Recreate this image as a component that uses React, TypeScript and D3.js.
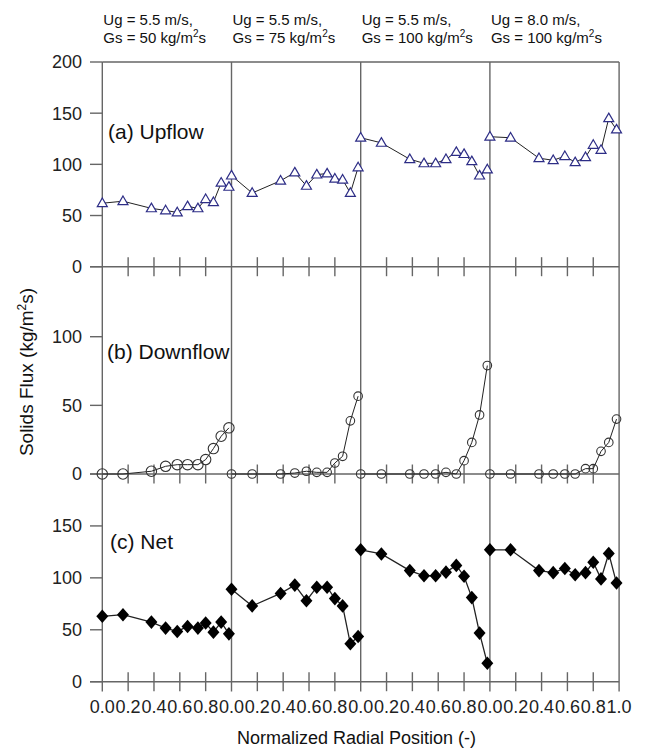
import React from "react";
import * as d3 from "d3";

// radial positions (same in every run)
const radialPos = [0, 0.16, 0.38, 0.49, 0.58, 0.66, 0.74, 0.8, 0.86, 0.92, 0.98];

const ugLabels = ["Ug = 5.5 m/s,", "Ug = 5.5 m/s,", "Ug = 5.5 m/s,", "Ug = 8.0 m/s,"];
const gsValues = ["50", "75", "100", "100"];

const upflow = [
  [62, 64, 57, 55, 53, 59, 57, 66, 63, 82, 78],
  [89, 72, 84, 92, 79, 90, 91, 86, 85, 72, 97],
  [126, 121, 105, 101, 101, 105, 112, 110, 103, 89, 95],
  [127, 126, 106, 104, 108, 102, 107, 119, 114, 145, 134],
];

const downflow = [
  [0, 0, 2, 5.6, 6.8, 6.8, 6.8, 10.5, 18.5, 27.5, 33.6],
  [0, 0, 0, 0.7, 2, 1.2, 1.2, 8, 12.9, 38.7, 56.7],
  [0, 0, 0, 0, 0, 1.2, 0, 9.7, 23, 43, 79],
  [0, 0, 0, 0, 0, 0, 3.9, 3.9, 16.5, 23, 40],
];

const net = [
  [63, 64.5, 57.4, 51.6, 48.4, 53.2, 51.6, 56.5, 47.7, 57.4, 46.1],
  [89, 73, 85, 93, 78, 91, 91, 80, 73, 36.5, 43.5],
  [127, 123, 107, 102, 102, 105.5, 112, 101.6, 81, 46.8, 17.7],
  [127, 127, 107, 105, 109, 103, 105, 115, 99, 123.5, 95],
];

const xTicks = [0, 0.2, 0.4, 0.6, 0.8];
const upTicks = [0, 50, 100, 150, 200];
const downTicks = [0, 50, 100];
const netTicks = [0, 50, 100, 150];

const W = 647;
const H = 749;
const FONT = "'Liberation Sans', Arial, Helvetica, sans-serif";
const AXIS = "#666";

const x0 = 102.3;
const segW = 129.2;
const xRight = x0 + segW * 4;
const frameTop = 62;
const frameBottom = 691.5;

const panels = [
  { label: "(a) Upflow", labelX: 108, labelY: 139, range: [266.7, 62], max: 200, ticks: upTicks, data: upflow, kind: "tri" },
  { label: "(b) Downflow", labelX: 107, labelY: 359, range: [474, 266.7], max: 151, ticks: downTicks, data: downflow, kind: "circle" },
  { label: "(c) Net", labelX: 110, labelY: 549, range: [681.7, 474], max: 200, ticks: netTicks, data: net, kind: "diamond" },
];

const segScale = (i: number) =>
  d3.scaleLinear().domain([0, 1]).range([x0 + i * segW, x0 + (i + 1) * segW]);

const triPath = "M0,-5.2L5,3.4L-5,3.4Z";
const diamondPath = "M0,-6.8L6,0L0,6.8L-6,0Z";

export default function App() {
  return (
    <svg
      width={W}
      height={H}
      style={{ position: "absolute", left: 0, top: 0, background: "#fff" }}
      fontFamily={FONT}
    >
      {/* headers */}
      {ugLabels.map((u, i) => {
        const x = segScale(i)(0) + 1;
        return (
          <g key={"h" + i} fontSize={15} fill="#111">
            <text x={x} y={25}>{u}</text>
            <text x={x} y={43}>
              {"Gs = " + gsValues[i] + " kg/m"}
              <tspan fontSize={10} dy={-6}>2</tspan>
              <tspan dy={6}>s</tspan>
            </text>
          </g>
        );
      })}

      {/* frame */}
      <line x1={x0} x2={xRight} y1={frameTop} y2={frameTop} stroke={AXIS} strokeWidth={1.4} />
      {d3.range(5).map((i) => (
        <line
          key={"v" + i}
          x1={x0 + i * segW}
          x2={x0 + i * segW}
          y1={frameTop}
          y2={frameBottom}
          stroke={AXIS}
          strokeWidth={1.4}
        />
      ))}

      {panels.map((p, pi) => {
        const y = d3.scaleLinear().domain([0, p.max]).range(p.range);
        const base = y(0);
        const line = d3
          .line<number>()
          .x((_, k) => 0)
          .y((d) => y(d));
        return (
          <g key={"p" + pi}>
            <line x1={90} x2={xRight} y1={base} y2={base} stroke={AXIS} strokeWidth={1.4} />
            {p.ticks.map((t) => (
              <g key={"yt" + t}>
                <line x1={90} x2={x0} y1={y(t)} y2={y(t)} stroke={AXIS} strokeWidth={1.4} />
                <text x={82} y={y(t)} dy="0.36em" textAnchor="end" fontSize={18} fill="#222">
                  {t}
                </text>
              </g>
            ))}
            {d3.range(4).map((i) => {
              const xs = segScale(i);
              return xTicks.slice(1).map((t) => (
                <line
                  key={"xt" + i + t}
                  x1={xs(t)}
                  x2={xs(t)}
                  y1={base - 9.5}
                  y2={base + 9.5}
                  stroke={AXIS}
                  strokeWidth={1.4}
                />
              ));
            })}
            <text x={p.labelX} y={p.labelY} fontSize={21} fill="#111">
              {p.label}
            </text>
            {p.data.map((vals, i) => {
              const xs = segScale(i);
              const path = d3
                .line<number>()
                .x((_, k) => xs(radialPos[k]))
                .y((d) => y(d))(vals);
              return (
                <g key={"s" + i}>
                  <path d={path || ""} fill="none" stroke="#222" strokeWidth={p.kind === "diamond" ? 1.3 : 1} />
                  {vals.map((v, k) => {
                    const cx = xs(radialPos[k]);
                    const cy = y(v);
                    if (p.kind === "tri")
                      return (
                        <path
                          key={k}
                          d={triPath}
                          transform={`translate(${cx},${cy})`}
                          fill="#fff"
                          stroke="#2d2d86"
                          strokeWidth={1.2}
                        />
                      );
                    if (p.kind === "circle")
                      return (
                        <circle
                          key={k}
                          cx={cx}
                          cy={cy}
                          r={i === 0 ? 5.2 : 4.3}
                          fill="none"
                          stroke="#333"
                          strokeWidth={1.1}
                        />
                      );
                    return (
                      <path key={k} d={diamondPath} transform={`translate(${cx},${cy})`} fill="#000" />
                    );
                  })}
                </g>
              );
            })}
          </g>
        );
      })}

      {/* x tick labels */}
      {d3.range(4).map((i) => {
        const xs = segScale(i);
        const ticks = i === 3 ? [...xTicks, 1] : xTicks;
        return ticks.map((t) => (
          <text key={"xl" + i + t} x={xs(t)} y={713} textAnchor="middle" fontSize={18} fill="#222">
            {t.toFixed(1)}
          </text>
        ));
      })}

      {/* axis titles */}
      <text x={356.5} y={744} textAnchor="middle" fontSize={18} fill="#111">
        Normalized Radial Position (-)
      </text>
      <text
        transform="translate(33,372) rotate(-90)"
        textAnchor="middle"
        fontSize={19}
        fill="#111"
      >
        Solids Flux (kg/m
        <tspan fontSize={12} dy={-7}>2</tspan>
        <tspan dy={7}>s)</tspan>
      </text>
    </svg>
  );
}
